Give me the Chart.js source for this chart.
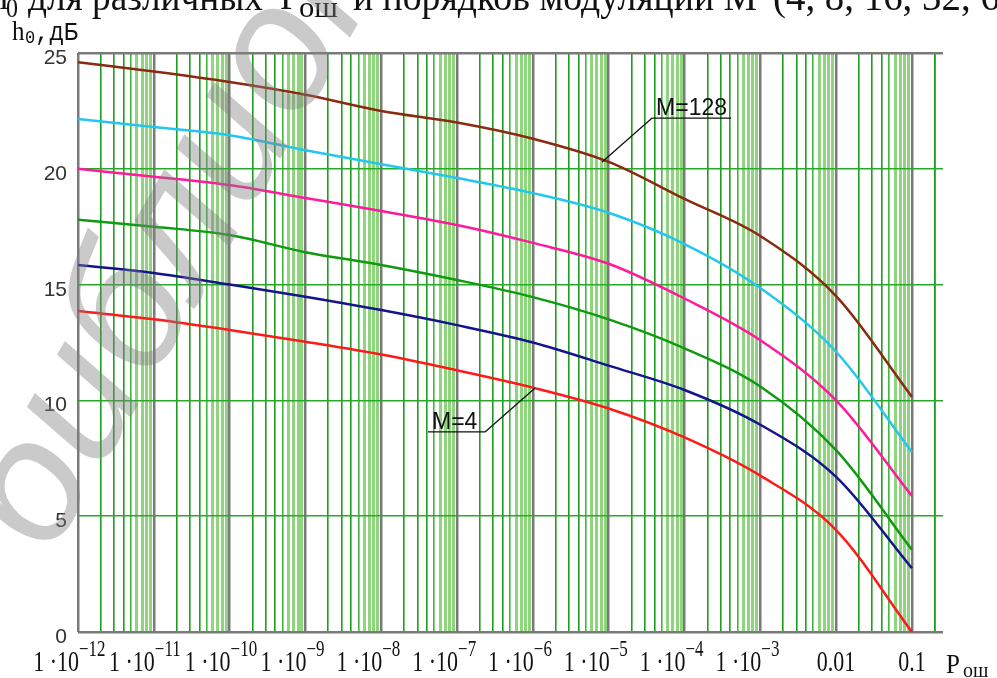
<!DOCTYPE html>
<html>
<head>
<meta charset="utf-8">
<script src="https://cdn.jsdelivr.net/npm/chart.js@4.4.0/dist/chart.umd.min.js"></script>
<style>
  html, body { margin: 0; padding: 0; background: #fff; }
  #wrap { width: 997px; height: 678px; position: relative; }
</style>
</head>
<body>
<div id="wrap"><canvas id="myChart" width="997" height="678"></canvas></div>
<script>
// error probability (x axis, log scale)
const pErr = [1e-12, 1e-11, 1e-10, 1e-9, 1e-8, 1e-7, 1e-6, 1e-5, 1e-4, 1e-3, 1e-2, 1e-1];

// h0, dB for each modulation order M
const hM4   = [13.86, 13.5, 13.04, 12.53, 11.98, 11.3, 10.55, 9.65, 8.4, 6.75, 4.4, 0];
const hM8   = [15.85, 15.5, 15.0, 14.48, 13.9, 13.25, 12.5, 11.5, 10.45, 8.95, 6.7, 2.75];
const hM16  = [17.8, 17.5, 17.14, 16.4, 15.85, 15.2, 14.46, 13.5, 12.25, 10.6, 7.85, 3.55];
const hM32  = [20.0, 19.66, 19.3, 18.74, 18.18, 17.57, 16.8, 15.9, 14.4, 12.6, 10.0, 5.87];
const hM64  = [22.15, 21.8, 21.45, 20.8, 20.2, 19.6, 18.95, 18.1, 16.75, 14.85, 12.1, 7.77];
const hM128 = [24.6, 24.2, 23.75, 23.2, 22.5, 22.0, 21.3, 20.3, 18.7, 17.1, 14.5, 10.15];

// tick labels
const xTickValues = [1e-12, 1e-11, 1e-10, 1e-9, 1e-8, 1e-7, 1e-6, 1e-5, 1e-4, 1e-3, 1e-2, 1e-1];
const xTickLabels = ["1 ·10^−12", "1 ·10^−11", "1 ·10^−10", "1 ·10^−9", "1 ·10^−8", "1 ·10^−7",
                     "1 ·10^−6", "1 ·10^−5", "1 ·10^−4", "1 ·10^−3", "0.01", "0.1"];
const yTickValues = [0, 5, 10, 15, 20, 25];

// callout labels for the lowest and highest curve (data units)
const callouts = [
  { text: "M=128", x1: 3.74e-5, x2: 4.12e-4, y: 22.19, tipX: 8.18e-6, tipY: 20.29, from: "left" },
  { text: "M=4", x1: 4.14e-8, x2: 2.34e-7, y: 8.64, tipX: 1.07e-6, tipY: 10.54, from: "right" }
];

function pts(arr) {
  return arr.map((h, i) => ({ x: pErr[i], y: h }));
}

function line(data, color) {
  return {
    data: pts(data),
    borderColor: color,
    borderWidth: 2.5,
    pointRadius: 0,
    tension: 0.25,
    cubicInterpolationMode: "monotone",
    fill: false
  };
}

// draw text with a vertical stretch like the scanned original
function txt(ctx, s, x, y, font, align, sy) {
  ctx.save();
  ctx.translate(x, y);
  ctx.scale(1, sy || 1);
  ctx.font = font;
  ctx.textAlign = align || "left";
  ctx.textBaseline = "alphabetic";
  ctx.fillText(s, 0, 0);
  ctx.restore();
}

// draw text squeezed/stretched to run from x0 to x1
function fitText(ctx, s, x0, x1, y, font, sy) {
  ctx.save();
  ctx.font = font;
  const w = ctx.measureText(s).width;
  ctx.translate(x0, y);
  ctx.scale((x1 - x0) / w, sy || 1);
  ctx.textBaseline = "alphabetic";
  ctx.fillText(s, 0, 0);
  ctx.restore();
}

const decorPlugin = {
  id: "decor",
  afterDraw(chart) {
    const ctx = chart.ctx;
    const xs = chart.scales.x;
    const ys = chart.scales.y;
    ctx.save();
    ctx.fillStyle = "#111";

    // x tick labels with exponents
    xTickValues.forEach((v, i) => {
      const px = xs.getPixelForValue(v);
      const parts = xTickLabels[i].split("^");
      if (parts.length === 2) {
        txt(ctx, parts[0], px + 1, 671, "22px 'Liberation Serif'", "right", 1.3);
        txt(ctx, parts[1], px + 1, 656, "17px 'Liberation Serif'", "left", 1.3);
      } else {
        txt(ctx, parts[0], px, 671, "22px 'Liberation Serif'", "center", 1.3);
      }
    });

    // y tick labels
    ctx.fillStyle = "#333";
    yTickValues.forEach(v => {
      const py = ys.getPixelForValue(v);
      txt(ctx, String(v), 67, py + 11, "21px 'Liberation Sans'", "right", 1);
    });

    // axis titles
    ctx.fillStyle = "#111";
    txt(ctx, "h", 12, 40, "25px 'Liberation Serif'", "left", 1.1);
    txt(ctx, "0", 25, 43, "17px 'Liberation Mono'", "left", 1.1);
    txt(ctx, ",дБ", 35, 40, "24px 'Liberation Mono'", "left", 1.1);
    txt(ctx, "P", 946, 673, "25px 'Liberation Serif'", "left", 1.1);
    txt(ctx, "ош", 963, 677, "20px 'Liberation Serif'", "left", 1.1);

    // partially visible caption above the chart
    const capFont = "36px 'Liberation Serif'";
    txt(ctx, "h", -10, 9, capFont, "left", 1.1);
    txt(ctx, "0", 6, 17, "24px 'Liberation Serif'", "left", 1.1);
    fitText(ctx, "для различных", 28, 263, 10, capFont, 1.1);
    txt(ctx, "P", 280, 9, capFont, "left", 1.1);
    fitText(ctx, "ош", 299, 338, 17, "26px 'Liberation Serif'", 1.1);
    fitText(ctx, "и порядков модуляции M", 353, 757, 10, capFont, 1.1);
    fitText(ctx, "(4, 8, 16, 32, 64, 128)", 773, 1110, 10, capFont, 1.1);

    // callouts
    ctx.strokeStyle = "#111";
    ctx.lineWidth = 1.3;
    callouts.forEach(c => {
      const a = xs.getPixelForValue(c.x1);
      const b = xs.getPixelForValue(c.x2);
      const py = ys.getPixelForValue(c.y);
      const tx = xs.getPixelForValue(c.tipX);
      const ty = ys.getPixelForValue(c.tipY);
      ctx.beginPath();
      ctx.moveTo(a, py);
      ctx.lineTo(b, py);
      ctx.moveTo(c.from === "left" ? a : b, py);
      ctx.lineTo(tx, ty);
      ctx.stroke();
      txt(ctx, c.text, a + 4, py - 3, "23px 'Liberation Sans'", "left", 1);
    });

    // watermark
    ctx.save();
    ctx.translate(5, 535);
    ctx.rotate(-60 * Math.PI / 180);
    ctx.font = "italic 180px 'Liberation Sans'";
    ctx.textAlign = "left";
    ctx.textBaseline = "middle";
    ctx.fillStyle = "rgba(128,128,128,0.42)";
    ctx.fillText("библиотека", 0, 0);
    ctx.restore();

    ctx.restore();
  }
};

function minorIndex(v) {
  const e = Math.floor(Math.log10(v) + 1e-9);
  return Math.round(v / Math.pow(10, e));
}

const ctx = document.getElementById("myChart").getContext("2d");
new Chart(ctx, {
  type: "line",
  data: {
    datasets: [
      line(hM4, "#ff1a1a"),
      line(hM8, "#14148c"),
      line(hM16, "#0f9a0f"),
      line(hM32, "#ff1a9c"),
      line(hM64, "#22c6ee"),
      line(hM128, "#8a2a10")
    ]
  },
  options: {
    responsive: false,
    animation: false,
    events: [],
    layout: { padding: { left: 78, top: 53, right: 54, bottom: 46 } },
    plugins: { legend: { display: false }, tooltip: { enabled: false } },
    scales: {
      x: {
        type: "logarithmic",
        min: 1e-12,
        max: 0.257,
        afterBuildTicks(scale) {
          const t = [];
          for (let e = -12; e <= -1; e++) {
            for (let m = 1; m <= 9; m++) {
              const v = m * Math.pow(10, e);
              if (v <= 0.257) t.push({ value: v });
            }
          }
          t.push({ value: 0.2 });
          scale.ticks = t;
        },
        ticks: { display: false, autoSkip: false },
        border: { display: false },
        grid: {
          drawTicks: false,
          color(c) {
            const m = minorIndex(c.tick.value);
            if (m === 1) return "#7a7a7a";
            if (m <= 4) return "#1e9e1e";
            if (m === 5) return "#3fb83f";
            return "rgba(95,195,70,0.7)";
          },
          lineWidth(c) {
            const m = minorIndex(c.tick.value);
            if (m === 1) return 2.5;
            if (m <= 5) return 1.6;
            return 3;
          }
        }
      },
      y: {
        type: "linear",
        min: 0,
        max: 25,
        ticks: { display: false, stepSize: 5 },
        border: { display: false },
        grid: {
          drawTicks: false,
          color(c) {
            return (c.tick.value === 0 || c.tick.value === 25) ? "#7a7a7a" : "#2aa82a";
          },
          lineWidth(c) {
            return (c.tick.value === 0 || c.tick.value === 25) ? 2.5 : 1.6;
          }
        }
      }
    }
  },
  plugins: [decorPlugin]
});
</script>
</body>
</html>
